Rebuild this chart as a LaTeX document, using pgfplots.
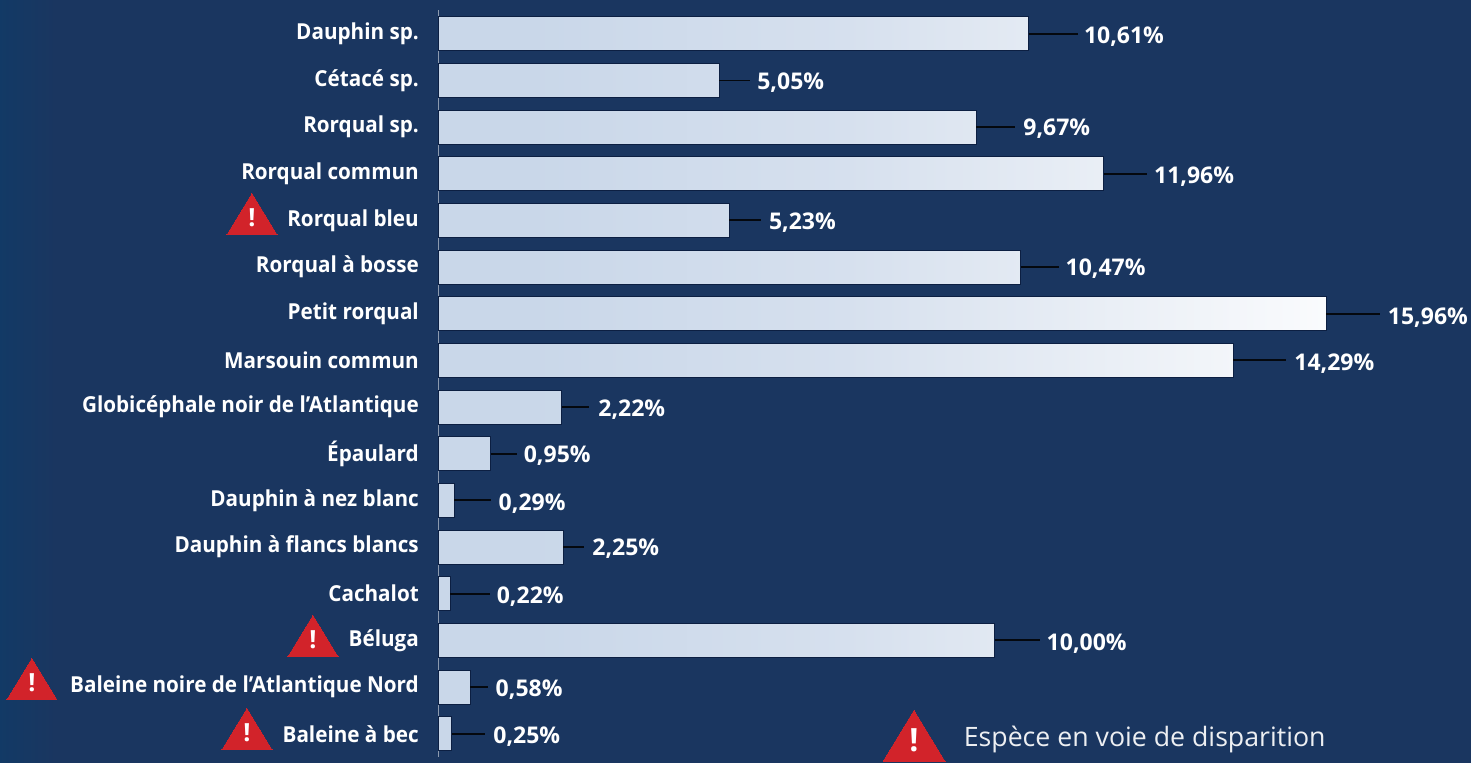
\documentclass[border=0pt]{standalone}
\usepackage{pgfplots}
\pgfplotsset{compat=1.18}
\usepackage{pgfplotstable}
\usepackage{fontspec}
\setmainfont{Open Sans}
\definecolor{fond}{HTML}{1A3660}
\definecolor{fondgauche}{HTML}{123A66}
\definecolor{alerte}{HTML}{D2232A}
\definecolor{ombre}{HTML}{0C1F42}
\definecolor{barA}{HTML}{C9D7E9}
\definecolor{barB}{HTML}{D6E0EE}
\definecolor{barC}{HTML}{E6ECF4}
\definecolor{barD}{HTML}{FAFBFD}
% the 25bp--75bp span of the shading covers the bar from end to end
\pgfdeclarehorizontalshading{barre}{100bp}{
  color(0bp)=(barA); color(30bp)=(barA); color(48bp)=(barB);
  color(60bp)=(barC); color(75bp)=(barD); color(100bp)=(barD)}
\newlength{\px}\setlength{\px}{0.5pt}

% row, share in %, leader length, label position, label row
\pgfplotstableread{
row val   lead  labx   laby
0   10.61 0.88  11.60  0.02
1   5.05  0.56  5.73   1.00
2   9.67  0.70  10.51  2.00
3   11.96 0.77  12.86  3.02
4   5.23  0.575 5.94   4.00
5   10.47 0.68  11.27  5.00
6   15.96 0.97  17.06  6.04
7   14.29 0.95  15.38  7.02
8   2.22  0.50  2.875  8.02
9   0.95  0.47  1.535  9.00
10  0.29  0.66  1.084  10.02
11  2.25  0.38  2.767  11.00
12  0.22  0.72  1.05   12.02
13  10.00 0.81  10.93  13.02
14  0.58  0.32  1.03   14.02
15  0.25  0.59  0.988  15.02
}\donnees

\begin{document}
\begin{tikzpicture}[x=\px,y=\px]
\path[use as bounding box] (0,0) rectangle (1471,762);
\fill[fond] (-2,-2) rectangle (1473,764);
\shade[left color=fondgauche,right color=fond] (-2,-2) rectangle (56,764);
\begin{axis}[
  at={(438\px,5\px)},anchor=south west,
  scale only axis,width=1033\px,height=746.6\px,
  xmin=0,xmax=18.56,ymin=-0.5,ymax=15.5,
  y dir=reverse,
  hide x axis,
  axis y line*=left,
  y axis line style={draw=white!50!fond,line width=1\px},
  clip=false,
  ytick={0,...,15},
  major tick length=0pt,
  yticklabels={Dauphin sp.,Cétacé sp.,Rorqual sp.,Rorqual commun,Rorqual bleu,Rorqual à bosse,Petit rorqual,Marsouin commun,Globicéphale noir de l'Atlantique,Épaulard,Dauphin à nez blanc,Dauphin à flancs blancs,Cachalot,Béluga,Baleine noire de l'Atlantique Nord,Baleine à bec},
  yticklabel style={font=\fontsize{11}{13}\selectfont\bfseries,text=white,inner sep=0pt,xscale=0.94,xshift=-10pt,yshift=0\px},
  /pgf/number format/.cd,fixed,fixed zerofill,precision=2,use comma,assume math mode=true,
]
% bars
\addplot[xbar,bar width=34\px,shade,shading=barre,draw=ombre,line width=1\px,forget plot]
  table[x=val,y=row]{\donnees};
% leaders from the bar end to the value
\addplot[draw=none,mark=none,forget plot,
  error bars/.cd,x dir=plus,x explicit,error mark=none,
  error bar style={color=black!85!fond,line width=1.8\px}]
  table[x=val,y=row,x error=lead]{\donnees};
% value labels
\addplot[draw=none,mark=none,forget plot,
  point meta=explicit,
  nodes near coords={\pgfmathprintnumber{\pgfplotspointmeta}\%},
  nodes near coords align={anchor=west},
  every node near coord/.append style={font=\fontsize{11.5}{13}\selectfont\bfseries,text=white,inner sep=0pt,yshift=-2\px}]
  table[x=labx,y=laby,meta=val]{\donnees};
% warning triangles beside the endangered species
\addplot[only marks,mark=triangle*,mark size=28.9\px,color=alerte,
  mark options={fill=alerte,draw=alerte,line width=0pt,yscale=0.95},forget plot,
  nodes near coords={!},
  nodes near coords align={anchor=center},
  every node near coord/.append style={font=\fontsize{12.5}{13}\selectfont\bfseries,text=white,inner sep=0pt,yshift=3\px}]
  coordinates {(-3.342,4.013) (-2.246,13.055) (-7.296,13.977) (-3.432,15.05)};
% key
\addplot[only marks,mark=triangle*,mark size=35.8\px,color=alerte,
  mark options={fill=alerte,draw=alerte,line width=0pt,yscale=0.95},forget plot,
  nodes near coords={!},
  nodes near coords align={anchor=center},
  every node near coord/.append style={font=\fontsize{16}{16}\selectfont\bfseries,text=white,inner sep=0pt,yshift=4\px}]
  coordinates {(8.553,15.23)};
\node[anchor=west,inner sep=0pt,text=white!92!fond,font=\fontsize{13.35}{15}\selectfont] at (axis cs:9.44,15.12) {Espèce en voie de disparition};
\end{axis}
\end{tikzpicture}
\end{document}
